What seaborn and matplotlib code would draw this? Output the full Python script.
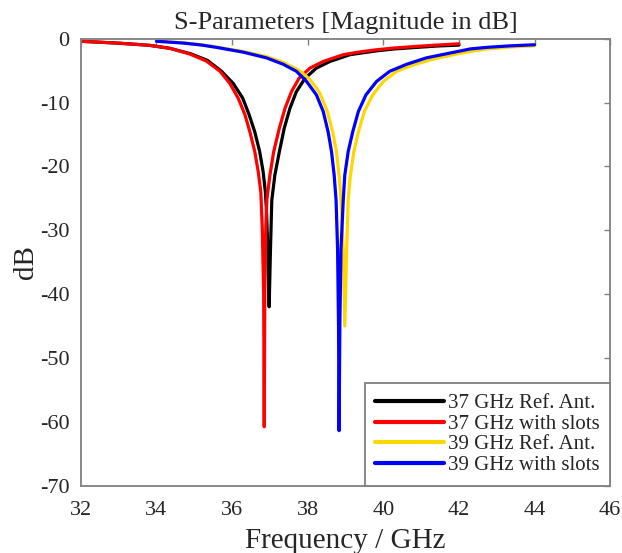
"""
S-parameter comparison: reference antennas vs. slotted versions at 37 and 39 GHz.
"""

import numpy as np
import pandas as pd
import matplotlib
matplotlib.use("Agg")
import matplotlib.pyplot as plt
import seaborn as sns


# ──────────────────────────────────────────────────────────────────────────────
# Data
# ──────────────────────────────────────────────────────────────────────────────

freq_37_ref = [32.0, 32.5, 33.0, 33.5, 33.83, 34.35, 34.9, 35.35, 35.72, 36.03,
               36.28, 36.45, 36.6, 36.73, 36.82, 36.88, 36.91, 36.945, 36.98,
               37.015, 37.05, 37.13, 37.25, 37.38, 37.53, 37.7, 37.93, 38.23,
               38.59, 39.12, 39.82, 40.3, 40.88, 41.4, 42.0]
s11_37_ref = [-0.4, -0.55, -0.7, -0.9, -1.05, -1.5, -2.35, -3.4, -5.1, -7.0,
              -9.3, -11.9, -14.6, -17.7, -20.8, -24.0, -27.0, -33.0, -42.0,
              -33.0, -25.3, -21.4, -17.7, -14.0, -10.9, -8.3, -6.2, -4.6,
              -3.56, -2.5, -1.9, -1.6, -1.36, -1.15, -1.0]

freq_37_slot = [32.0, 32.5, 33.0, 33.5, 33.83, 34.35, 34.88, 35.32, 35.68, 35.94,
                36.16, 36.34, 36.47, 36.6, 36.69, 36.76, 36.8, 36.835, 36.85,
                36.865, 36.89, 36.92, 37.0, 37.1, 37.25, 37.4, 37.57, 37.77,
                38.06, 38.41, 38.94, 39.4, 39.82, 40.3, 40.88, 41.4, 42.0]
s11_37_slot = [-0.4, -0.55, -0.7, -0.9, -1.05, -1.5, -2.4, -3.5, -5.1, -7.0,
               -9.3, -11.9, -14.6, -17.7, -20.8, -24.0, -30.0, -40.0, -60.8,
               -40.0, -30.0, -25.2, -21.4, -17.7, -14.0, -10.9, -8.3, -6.2,
               -4.6, -3.56, -2.5, -2.05, -1.73, -1.45, -1.2, -1.0, -0.8]

freq_39_ref = [34.0, 34.71, 35.2, 35.59, 36.29, 36.91, 37.35, 37.79, 38.06, 38.32,
               38.52, 38.66, 38.76, 38.83, 38.88, 38.94, 38.98, 39.03, 39.07,
               39.13, 39.22, 39.34, 39.5, 39.72, 40.0, 40.35, 40.79, 41.32,
               41.94, 42.4, 42.75, 43.35, 44.0]
s11_39_ref = [-0.4, -0.65, -0.95, -1.3, -2.0, -2.8, -3.7, -5.0, -6.4, -8.5,
              -11.4, -14.6, -17.7, -21.4, -25.3, -33.0, -45.0, -33.0, -25.3,
              -21.4, -17.7, -14.6, -11.4, -8.8, -6.7, -5.1, -4.1, -3.2,
              -2.4, -1.9, -1.6, -1.3, -1.1]

freq_39_slot = [34.0, 34.71, 35.2, 35.59, 36.29, 36.91, 37.35, 37.7, 37.97, 38.23,
                38.41, 38.54, 38.63, 38.7, 38.75, 38.79, 38.815, 38.83, 38.85,
                38.88, 38.94, 38.98, 39.07, 39.19, 39.34, 39.54, 39.82, 40.17,
                40.62, 41.14, 41.76, 42.3, 42.75, 43.35, 44.0]
s11_39_slot = [-0.4, -0.68, -1.0, -1.36, -2.1, -3.0, -4.0, -5.1, -6.7, -8.8,
               -11.4, -14.6, -17.7, -21.4, -25.3, -33.0, -45.0, -61.4, -45.0,
               -33.0, -25.3, -21.4, -17.7, -14.6, -11.4, -8.8, -6.7, -5.1,
               -4.0, -3.0, -2.25, -1.6, -1.35, -1.12, -0.95]

labels = ["37 GHz Ref. Ant.", "37 GHz with slots",
          "39 GHz Ref. Ant.", "39 GHz with slots"]
colors = ["#000000", "#FF0000", "#FFD700", "#0000FF"]

x_ticks = [32, 34, 36, 38, 40, 42, 44, 46]
y_ticks = [0, -10, -20, -30, -40, -50, -60, -70]


def build_frame():
    parts = []
    for lab, f, s in zip(labels,
                         [freq_37_ref, freq_37_slot, freq_39_ref, freq_39_slot],
                         [s11_37_ref, s11_37_slot, s11_39_ref, s11_39_slot]):
        parts.append(pd.DataFrame({"freq": f, "db": s, "series": lab}))
    return pd.concat(parts, ignore_index=True)


def main():
    df = build_frame()

    sns.set_theme(style="white")
    plt.rcParams["font.family"] = ["Liberation Serif", "DejaVu Serif"]
    plt.rcParams["axes.unicode_minus"] = False

    fig = plt.figure(figsize=(6.22, 5.53), dpi=100)
    ax = fig.add_axes([0.130, 0.122, 0.851, 0.808])

    sns.lineplot(data=df, x="freq", y="db", hue="series", hue_order=labels,
                 palette=dict(zip(labels, colors)), estimator=None, sort=False,
                 linewidth=2.3, ax=ax)

    ax.set_xlim(32, 46)
    ax.set_ylim(-70, 0)
    ax.set_xticks(x_ticks)
    ax.set_yticks(y_ticks)
    ax.tick_params(direction="in", top=True, right=True, length=4, width=1,
                   color="#808080", labelsize=16, pad=8, labelcolor="#262626")
    ax.tick_params(axis="x", pad=11)
    for sp in ax.spines.values():
        sp.set_color("#808080")
        sp.set_linewidth(1.3)

    ax.set_xlabel("Frequency / GHz", fontsize=21, color="#262626", labelpad=6)
    ax.set_ylabel("dB", fontsize=21, color="#262626", labelpad=1)
    ax.set_title("S-Parameters [Magnitude in dB]", fontsize=19,
                 color="#262626", pad=7)

    leg = ax.legend(loc="lower right", fontsize=15, handlelength=3.3,
                    labelspacing=0.05, handletextpad=0.2, borderaxespad=0.0,
                    borderpad=0.5, frameon=True, fancybox=False, framealpha=1)
    leg.get_frame().set_edgecolor("#808080")
    leg.get_frame().set_linewidth(1.3)
    for line in leg.get_lines():
        line.set_linewidth(3)

    fig.savefig("out.png", dpi=100)
    plt.close(fig)


if __name__ == "__main__":
    main()
